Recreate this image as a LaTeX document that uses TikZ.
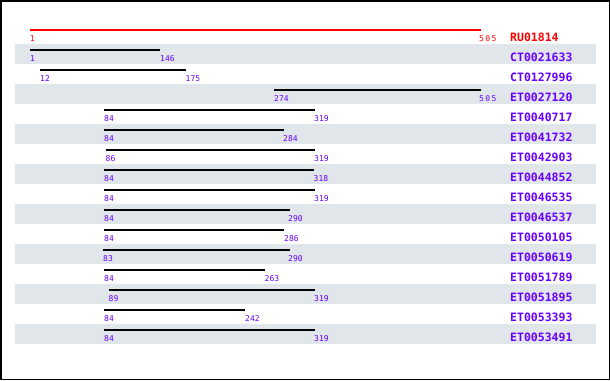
\documentclass[tikz,border=0pt]{standalone}
\usepackage{fontspec}
\usepackage{xcolor}
\usepackage{tikz}
\usetikzlibrary{positioning}
\newfontfamily\hitfont{DejaVu Sans Mono}
\definecolor{hitpurple}{RGB}{102, 0, 255}
\definecolor{hitred}{RGB}{255, 0, 0}
\definecolor{hitband}{RGB}{225, 230, 234}

\begin{document}
\begin{tikzpicture}[x=1pt, y=-1pt,
  band/.style={fill=hitband},
  bar/.style={line width=1.2pt, black},
  poslabel/.style={anchor=west, inner sep=0pt, font=\hitfont\fontsize{8}{8}\selectfont, text=hitpurple},
  hitname/.style={anchor=west, inner sep=0pt, font=\hitfont\bfseries\fontsize{11.5}{12}\selectfont, text=hitpurple}]
\useasboundingbox (0,0) rectangle (610,380);
% Faixas cinzentas (linhas alternadas)
\fill[band] (15,44) rectangle (596,64);
\fill[band] (15,84) rectangle (596,104);
\fill[band] (15,124) rectangle (596,144);
\fill[band] (15,164) rectangle (596,184);
\fill[band] (15,204) rectangle (596,224);
\fill[band] (15,244) rectangle (596,264);
\fill[band] (15,284) rectangle (596,304);
\fill[band] (15,324) rectangle (596,344);
\draw[line width=1.5pt] (0.75,0.75) rectangle (609.25,379.25);
% Referencia (em cima)
\coordinate (s0) at (30,30);  \coordinate (e0) at (481,30);
\draw[bar, hitred] (s0) -- (e0);
\node[poslabel, text=hitred] (a0) at (30,39) {1};
\node[poslabel, text=hitred] (b0) at (479,39) {5\,0\,5};
\node[hitname, text=hitred] (n0) at (510,37) {RU01814};
% Acertos
\coordinate (s1) at (30,50);    \coordinate (e1) at (159.7,50);
\draw[bar] (s1) -- (e1);
\node[poslabel] (a1) at (30,59) {1};
\node[poslabel] (b1) at (160,59) {146};
\node[hitname] (n1) at (510,57) {CT0021633};
\coordinate (s2) at (39.8,70);  \coordinate (e2) at (185.7,70);
\draw[bar] (s2) -- (e2);
\node[poslabel] (a2) at (40,79) {12};
\node[poslabel] (b2) at (185.5,79) {175};
\node[hitname] (n2) at (510,77) {CT0127996};
\coordinate (s3) at (274.3,90); \coordinate (e3) at (481,90);
\draw[bar] (s3) -- (e3);
\node[poslabel] (a3) at (274,99) {274};
\node[poslabel] (b3) at (479,99) {5\,0\,5};
\node[hitname] (n3) at (510,97) {ET0027120};
\coordinate (s4) at (104.3,110); \coordinate (e4) at (314.6,110);
\draw[bar] (s4) -- (e4);
\node[poslabel] (a4) at (104,119) {84};
\node[poslabel] (b4) at (314,119) {319};
\node[hitname] (n4) at (510,117) {ET0040717};
\coordinate (s5) at (104.3,130); \coordinate (e5) at (283.5,130);
\draw[bar] (s5) -- (e5);
\node[poslabel] (a5) at (104,139) {84};
\node[poslabel] (b5) at (283,139) {284};
\node[hitname] (n5) at (510,137) {ET0041732};
\coordinate (s6) at (106.1,150); \coordinate (e6) at (314.6,150);
\draw[bar] (s6) -- (e6);
\node[poslabel] (a6) at (105.5,159) {86};
\node[poslabel] (b6) at (314,159) {319};
\node[hitname] (n6) at (510,157) {ET0042903};
\coordinate (s7) at (104.3,170); \coordinate (e7) at (313.7,170);
\draw[bar] (s7) -- (e7);
\node[poslabel] (a7) at (104,179) {84};
\node[poslabel] (b7) at (313.5,179) {318};
\node[hitname] (n7) at (510,177) {ET0044852};
\coordinate (s8) at (104.3,190); \coordinate (e8) at (314.6,190);
\draw[bar] (s8) -- (e8);
\node[poslabel] (a8) at (104,199) {84};
\node[poslabel] (b8) at (314,199) {319};
\node[hitname] (n8) at (510,197) {ET0046535};
\coordinate (s9) at (104.3,210); \coordinate (e9) at (289.6,210);
\draw[bar] (s9) -- (e9);
\node[poslabel] (a9) at (104,219) {84};
\node[poslabel] (b9) at (288,219) {290};
\node[hitname] (n9) at (510,217) {ET0046537};
\coordinate (s10) at (104.3,230); \coordinate (e10) at (284.4,230);
\draw[bar] (s10) -- (e10);
\node[poslabel] (a10) at (104,239) {84};
\node[poslabel] (b10) at (284,239) {286};
\node[hitname] (n10) at (510,237) {ET0050105};
\coordinate (s11) at (103.4,250); \coordinate (e11) at (289.6,250);
\draw[bar] (s11) -- (e11);
\node[poslabel] (a11) at (103,259) {83};
\node[poslabel] (b11) at (288,259) {290};
\node[hitname] (n11) at (510,257) {ET0050619};
\coordinate (s12) at (104.3,270); \coordinate (e12) at (264.9,270);
\draw[bar] (s12) -- (e12);
\node[poslabel] (a12) at (104,279) {84};
\node[poslabel] (b12) at (264.5,279) {263};
\node[hitname] (n12) at (510,277) {ET0051789};
\coordinate (s13) at (108.8,290); \coordinate (e13) at (314.6,290);
\draw[bar] (s13) -- (e13);
\node[poslabel] (a13) at (108.5,299) {89};
\node[poslabel] (b13) at (314,299) {319};
\node[hitname] (n13) at (510,297) {ET0051895};
\coordinate (s14) at (104.3,310); \coordinate (e14) at (245.2,310);
\draw[bar] (s14) -- (e14);
\node[poslabel] (a14) at (104,319) {84};
\node[poslabel] (b14) at (245,319) {242};
\node[hitname] (n14) at (510,317) {ET0053393};
\coordinate (s15) at (104.3,330); \coordinate (e15) at (314.6,330);
\draw[bar] (s15) -- (e15);
\node[poslabel] (a15) at (104,339) {84};
\node[poslabel] (b15) at (314,339) {319};
\node[hitname] (n15) at (510,337) {ET0053491};
\end{tikzpicture}
\end{document}
